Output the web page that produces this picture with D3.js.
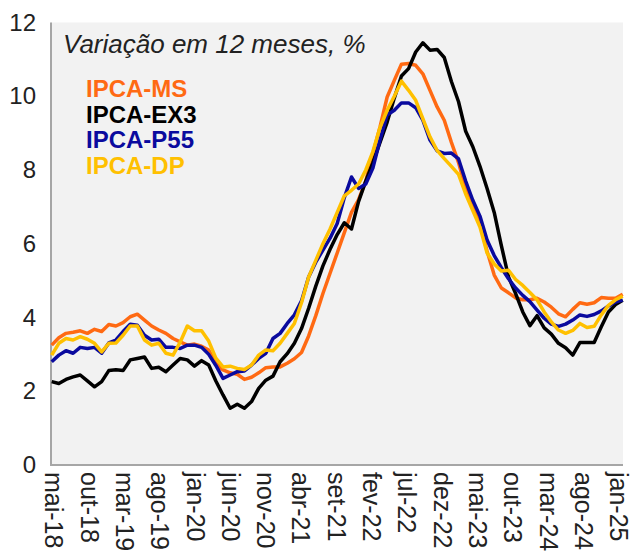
<!DOCTYPE html>
<html><head><meta charset="utf-8">
<script src="https://cdn.jsdelivr.net/npm/d3@7/dist/d3.min.js"></script>
<style>body{margin:0;background:#fff}svg{display:block;font-family:"Liberation Sans",Arial,sans-serif}</style>
</head><body>
<svg id="c" width="637" height="552"></svg>
<script>
const monthNames = ["jan","fev","mar","abr","mai","jun","jul","ago","set","out","nov","dez"];
// May 2018 .. Jan 2025 (81 months)
const months = d3.range(81).map(i => { const m = (4 + i) % 12, y = 18 + Math.floor((4 + i) / 12); return monthNames[m] + "-" + y; });
const tickLabels = ["mai-18","out-18","mar-19","ago-19","jan-20","jun-20","nov-20","abr-21","set-21","fev-22","jul-22","dez-22","mai-23","out-23","mar-24","ago-24","jan-25"];
const yTicks = [0,2,4,6,8,10,12];

const ipcaMS = [3.25,3.45,3.57,3.60,3.64,3.57,3.68,3.62,3.81,3.77,3.86,4.02,4.09,3.93,3.77,3.66,3.57,3.43,3.34,3.25,3.28,3.22,3.12,
 2.75,2.58,2.50,2.46,2.32,2.38,2.50,2.64,2.66,2.66,2.76,2.88,
 3.05,3.5,4.05,4.65,5.2,5.75,6.3,6.85,7.2,7.7,8.45,9.17,9.98,10.43,10.87,10.89,10.84,10.61,10.16,9.71,9.35,8.75,8.2,7.5,7.0,6.55,5.8,5.15,4.8,4.67,4.53,4.48,4.48,4.52,4.42,4.28,4.1,4.02,4.22,4.40,4.36,4.40,4.54,4.52,4.52,4.63];
const ipcaEX3 = [2.26,2.21,2.32,2.39,2.44,2.28,2.12,2.26,2.56,2.58,2.56,2.85,2.89,2.93,2.62,2.65,2.53,2.71,2.89,2.85,2.68,2.83,2.71,
 2.28,1.90,1.54,1.65,1.54,1.72,2.08,2.30,2.41,2.8,3.02,3.3,
 3.7,4.25,4.85,5.4,5.85,6.25,6.57,6.4,7.15,7.7,8.2,8.75,9.3,9.95,10.55,10.75,11.2,11.45,11.25,11.27,11.05,10.4,9.85,9.05,8.63,8.1,7.5,6.85,5.95,5.1,4.65,4.15,3.78,4.05,3.72,3.55,3.3,3.18,2.98,3.32,3.32,3.32,3.75,4.15,4.35,4.47];
const ipcaP55 = [2.80,2.98,3.10,3.03,3.19,3.16,3.19,3.03,3.31,3.39,3.62,3.82,3.79,3.52,3.39,3.41,3.19,3.19,3.16,3.25,3.25,3.19,3.0,
 2.7,2.35,2.44,2.53,2.55,2.71,2.89,3.03,3.43,3.57,3.84,4.07,
 4.45,5.1,5.5,5.83,6.15,6.55,7.25,7.81,7.5,7.62,8.05,8.81,9.49,9.62,9.82,9.82,9.69,9.35,8.81,8.52,8.45,8.46,8.3,7.7,7.18,6.75,6.1,5.68,5.35,5.05,4.8,4.6,4.43,4.2,3.98,3.82,3.76,3.82,3.93,4.07,4.03,4.08,4.18,4.31,4.42,4.47];
const ipcaDP = [2.98,3.30,3.43,3.39,3.48,3.41,3.30,3.07,3.30,3.31,3.52,3.77,3.77,3.39,3.25,3.30,3.03,2.98,3.33,3.77,3.64,3.64,3.36,
 2.9,2.66,2.68,2.62,2.59,2.71,2.98,3.12,3.10,3.30,3.57,3.84,
 4.4,5.1,5.55,6.0,6.4,6.85,7.3,7.45,7.62,8.0,8.5,9.15,9.62,10.0,10.41,10.16,9.89,9.39,8.9,8.53,8.31,8.1,7.88,7.35,6.9,6.45,5.75,5.45,5.26,5.28,5.03,4.87,4.68,4.48,4.15,3.88,3.66,3.57,3.65,3.84,3.73,3.76,4.07,4.33,4.48,4.58];

const seriesNames = ["IPCA-MS","IPCA-EX3","IPCA-P55","IPCA-DP"];
const seriesColors = ["#FF6A13","#000000","#0A0A9E","#FFC000"];
const seriesData = [ipcaMS, ipcaEX3, ipcaP55, ipcaDP];

const svg = d3.select("#c");
const L = 51, R = 623, T = 22.5, B = 465;
const x = d3.scalePoint().domain(months).range([L + 0.7, R - 0.3]);
const xLab = d3.scalePoint().domain(tickLabels).range([L + 2, R - 5]);
const y = d3.scaleLinear().domain([0, 12]).range([B, T]);

svg.append("rect").attr("x", L).attr("y", T).attr("width", R - L).attr("height", B - T).attr("fill", "#f2f2f2");

// axes
const gy = svg.append("g").attr("transform", `translate(${L},0)`)
  .call(d3.axisLeft(y).tickValues(yTicks).tickSize(0).tickPadding(15).tickFormat(d3.format("d")));
gy.select(".domain").attr("stroke", "#a6a6a6").attr("stroke-width", 2).attr("d", `M0,${T}V${B}`);
gy.selectAll("text").attr("font-size", 24).attr("fill", "#222").attr("font-family", '"Liberation Sans",Arial,sans-serif');

const gx = svg.append("g").attr("transform", `translate(0,${B})`)
  .call(d3.axisBottom(x).tickValues(tickLabels).tickSize(0).tickPadding(0));
gx.select(".domain").attr("stroke", "#a6a6a6").attr("stroke-width", 2).attr("d", `M${L - 1},0H${R}`);
gx.selectAll("text").attr("font-size", 25).attr("fill", "#222").attr("font-family", '"Liberation Sans",Arial,sans-serif')
  .attr("text-anchor", "start").attr("transform", d => `translate(${xLab(d) - x(d)},7) rotate(90)`)
  .attr("x", 0).attr("y", 0).attr("dy", "0.33em");

// lines
const line = d3.line().x((d, i) => x(months[i])).y(d => y(d));
seriesData.forEach((s, k) => {
  svg.append("path").datum(s).attr("d", line).attr("fill", "none")
    .attr("stroke", seriesColors[k]).attr("stroke-width", 3.5).attr("stroke-linejoin", "round").attr("stroke-linecap", "butt");
});

// title
svg.append("text").attr("x", 63).attr("y", 53).attr("font-size", 26).attr("font-style", "italic").attr("fill", "#222")
  .text("Variação em 12 meses, %");

// legend
const legY = [97, 122.5, 148, 174];
seriesNames.forEach((n, k) => {
  svg.append("text").attr("x", 86).attr("y", legY[k]).attr("font-size", 24).attr("font-weight", "bold")
    .attr("fill", seriesColors[k]).text(n);
});
</script>
</body></html>
